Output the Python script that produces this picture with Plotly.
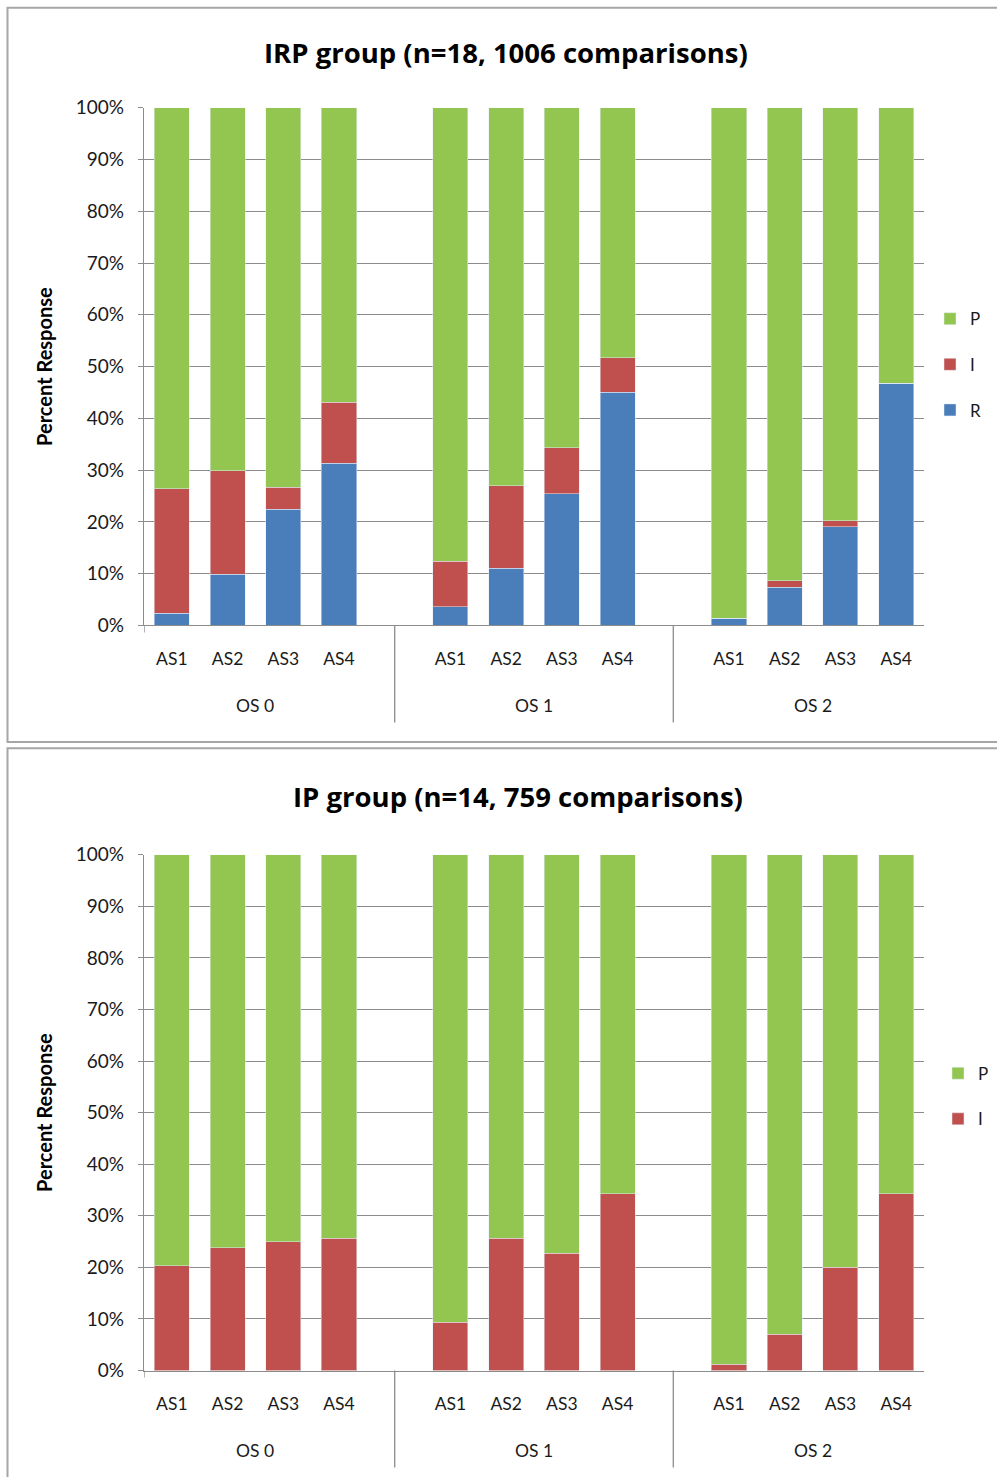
import plotly.graph_objects as go

W, H = 997, 1477

groups = ["OS 0", "OS 1", "OS 2"]
subcats = ["AS1", "AS2", "AS3", "AS4"]

# Top chart (IRP group) values in percent, order: OS0 AS1..AS4, OS1 AS1..AS4, OS2 AS1..AS4
top_R = [2.4, 9.9, 22.4, 31.3, 3.6, 11.0, 25.4, 45.0, 1.4, 7.4, 19.1, 46.8]
top_I = [24.0, 20.0, 4.3, 11.8, 8.8, 16.0, 8.9, 6.7, 0.0, 1.2, 1.1, 0.0]
top_P = [73.6, 70.1, 73.3, 56.9, 87.6, 73.0, 65.7, 48.3, 98.6, 91.4, 79.8, 53.2]

# Bottom chart (IP group)
bot_I = [20.3, 23.8, 25.0, 25.6, 9.4, 25.6, 22.7, 34.3, 1.2, 7.0, 20.0, 34.3]
bot_P = [79.7, 76.2, 75.0, 74.4, 90.6, 74.4, 77.3, 65.7, 98.8, 93.0, 80.0, 65.7]

y_ticks = list(range(0, 101, 10))

top_title = "IRP group (n=18, 1006 comparisons)"
bot_title = "IP group (n=14, 759 comparisons)"

COL_R = "#4A7EBB"
COL_I = "#C0504D"
COL_P = "#92C650"
GRID = "#8C8C8C"
FONT = "Lato"
TXT = "#1a1a1a"

# Category slots: 4 bars per group, with a blank slot between groups
bar_ids = []
cat_array = []
tick_vals = []
tick_text = []
gap_slots = []
for gi, g in enumerate(groups):
    if gi > 0:
        gap_id = "gap%d" % gi
        gap_slots.append(len(cat_array))
        cat_array.append(gap_id)
    for c in subcats:
        cid = g + " " + c
        bar_ids.append(cid)
        cat_array.append(cid)
        tick_vals.append(cid)
        tick_text.append(c)

# vertical calibration of the rendered page
SC, OFF = 0.985, 11.7

def py(px):
    return 1 - ((px - OFF) / SC) / H

def pxx(px):
    return px / W

fig = go.Figure()

fig.add_trace(go.Bar(x=bar_ids, y=top_R, name="R", marker_color=COL_R, xaxis="x", yaxis="y",
                     legend="legend", legendgroup="tR", legendrank=3))
fig.add_trace(go.Bar(x=bar_ids, y=top_I, name="I", marker_color=COL_I, xaxis="x", yaxis="y",
                     legend="legend", legendgroup="tI", legendrank=2))
fig.add_trace(go.Bar(x=bar_ids, y=top_P, name="P", marker_color=COL_P, xaxis="x", yaxis="y",
                     legend="legend", legendgroup="tP", legendrank=1))
fig.add_trace(go.Bar(x=bar_ids, y=bot_I, name="I", marker_color=COL_I, xaxis="x2", yaxis="y2",
                     legend="legend2", legendgroup="bI", legendrank=2))
fig.add_trace(go.Bar(x=bar_ids, y=bot_P, name="P", marker_color=COL_P, xaxis="x2", yaxis="y2",
                     legend="legend2", legendgroup="bP", legendrank=1))

x_dom = [pxx(144), pxx(924)]
top_px = (107.5, 625.5)
bot_px = (855, 1371)

def xaxis_cfg(anchor):
    return dict(domain=x_dom, anchor=anchor, type="category", categoryorder="array",
                categoryarray=cat_array, range=[-0.5, len(cat_array) - 0.5],
                tickmode="array", tickvals=tick_vals, ticktext=tick_text,
                showline=True, linecolor=GRID, linewidth=1.3, ticks="", showgrid=False,
                ticklabelstandoff=17, tickfont=dict(family=FONT, size=17.5, color=TXT),
                fixedrange=True)

def yaxis_cfg(anchor, dom):
    return dict(domain=dom, anchor=anchor, range=[0, 100], tickmode="array", tickvals=y_ticks,
                ticktext=["%d%%" % v for v in y_ticks], showgrid=True, gridcolor=GRID,
                gridwidth=1.3, showline=True, linecolor=GRID, linewidth=1.3, ticks="outside",
                ticklen=5, tickcolor=GRID, tickwidth=1.3, zeroline=False,
                tickfont=dict(family=FONT, size=19, color=TXT), ticklabelstandoff=10,
                title=dict(text="<b>Percent Response</b>", font=dict(family=FONT, size=20, color="#000"),
                           standoff=17),
                fixedrange=True)

legend_common = dict(xanchor="left", yanchor="top", traceorder="grouped", tracegroupgap=20.5,
                     font=dict(family=FONT, size=17, color=TXT), itemwidth=30,
                     bgcolor="rgba(0,0,0,0)")

fig.update_layout(
    width=W, height=H, margin=dict(l=0, r=0, t=0, b=0),
    paper_bgcolor="white", plot_bgcolor="white",
    barmode="stack", bargap=0.37,
    xaxis=xaxis_cfg("y"),
    yaxis=yaxis_cfg("x", [py(top_px[1]), py(top_px[0])]),
    xaxis2=xaxis_cfg("y2"),
    yaxis2=yaxis_cfg("x2", [py(bot_px[1]), py(bot_px[0])]),
    legend=dict(x=pxx(930), y=py(301), **legend_common),
    legend2=dict(x=pxx(938), y=py(1056), **legend_common),
    showlegend=True,
)

annotations = []
# Chart titles
annotations.append(dict(text="<b>" + top_title + "</b>", x=pxx(506), y=py(52), xref="paper", yref="paper",
                        showarrow=False, font=dict(family="Open Sans", size=27.5, color="#000"),
                        xanchor="center", yanchor="middle"))
annotations.append(dict(text="<b>" + bot_title + "</b>", x=pxx(518), y=py(797), xref="paper", yref="paper",
                        showarrow=False, font=dict(family="Open Sans", size=27.5, color="#000"),
                        xanchor="center", yanchor="middle"))

shapes = []
n_per = len(subcats)
for xa, (yt, yb) in (("x", top_px), ("x2", bot_px)):
    # group labels at the centre of each group's slots
    for gi, g in enumerate(groups):
        centre = gi * (n_per + 1) + (n_per - 1) / 2
        annotations.append(dict(text=g, x=centre, xref=xa, y=py(yb + 80), yref="paper",
                                showarrow=False, font=dict(family=FONT, size=17.5, color=TXT),
                                xanchor="center", yanchor="middle"))
    # group separators at blank slots
    for s in gap_slots:
        shapes.append(dict(type="line", xref=xa, yref="paper", x0=s, x1=s,
                           y0=py(yb), y1=py(yb + 97), line=dict(color=GRID, width=1.3)))
    # axis extension below zero
    shapes.append(dict(type="line", xref=xa, yref="paper", x0=-0.5, x1=-0.5,
                       y0=py(yb), y1=py(yb + 7), line=dict(color=GRID, width=1.3)))

# chart frames
shapes.append(dict(type="rect", xref="paper", yref="paper", x0=pxx(7.5), x1=pxx(1010),
                   y0=py(742), y1=py(7.5), line=dict(color="#A6A6A6", width=2)))
shapes.append(dict(type="rect", xref="paper", yref="paper", x0=pxx(7.5), x1=pxx(1010),
                   y0=py(1500), y1=py(748.5), line=dict(color="#A6A6A6", width=2)))

fig.update_layout(annotations=annotations, shapes=shapes)

fig.write_html("out.html", config={"displayModeBar": False},
               post_script="document.body.style.margin='0';document.body.style.overflow='hidden';")
